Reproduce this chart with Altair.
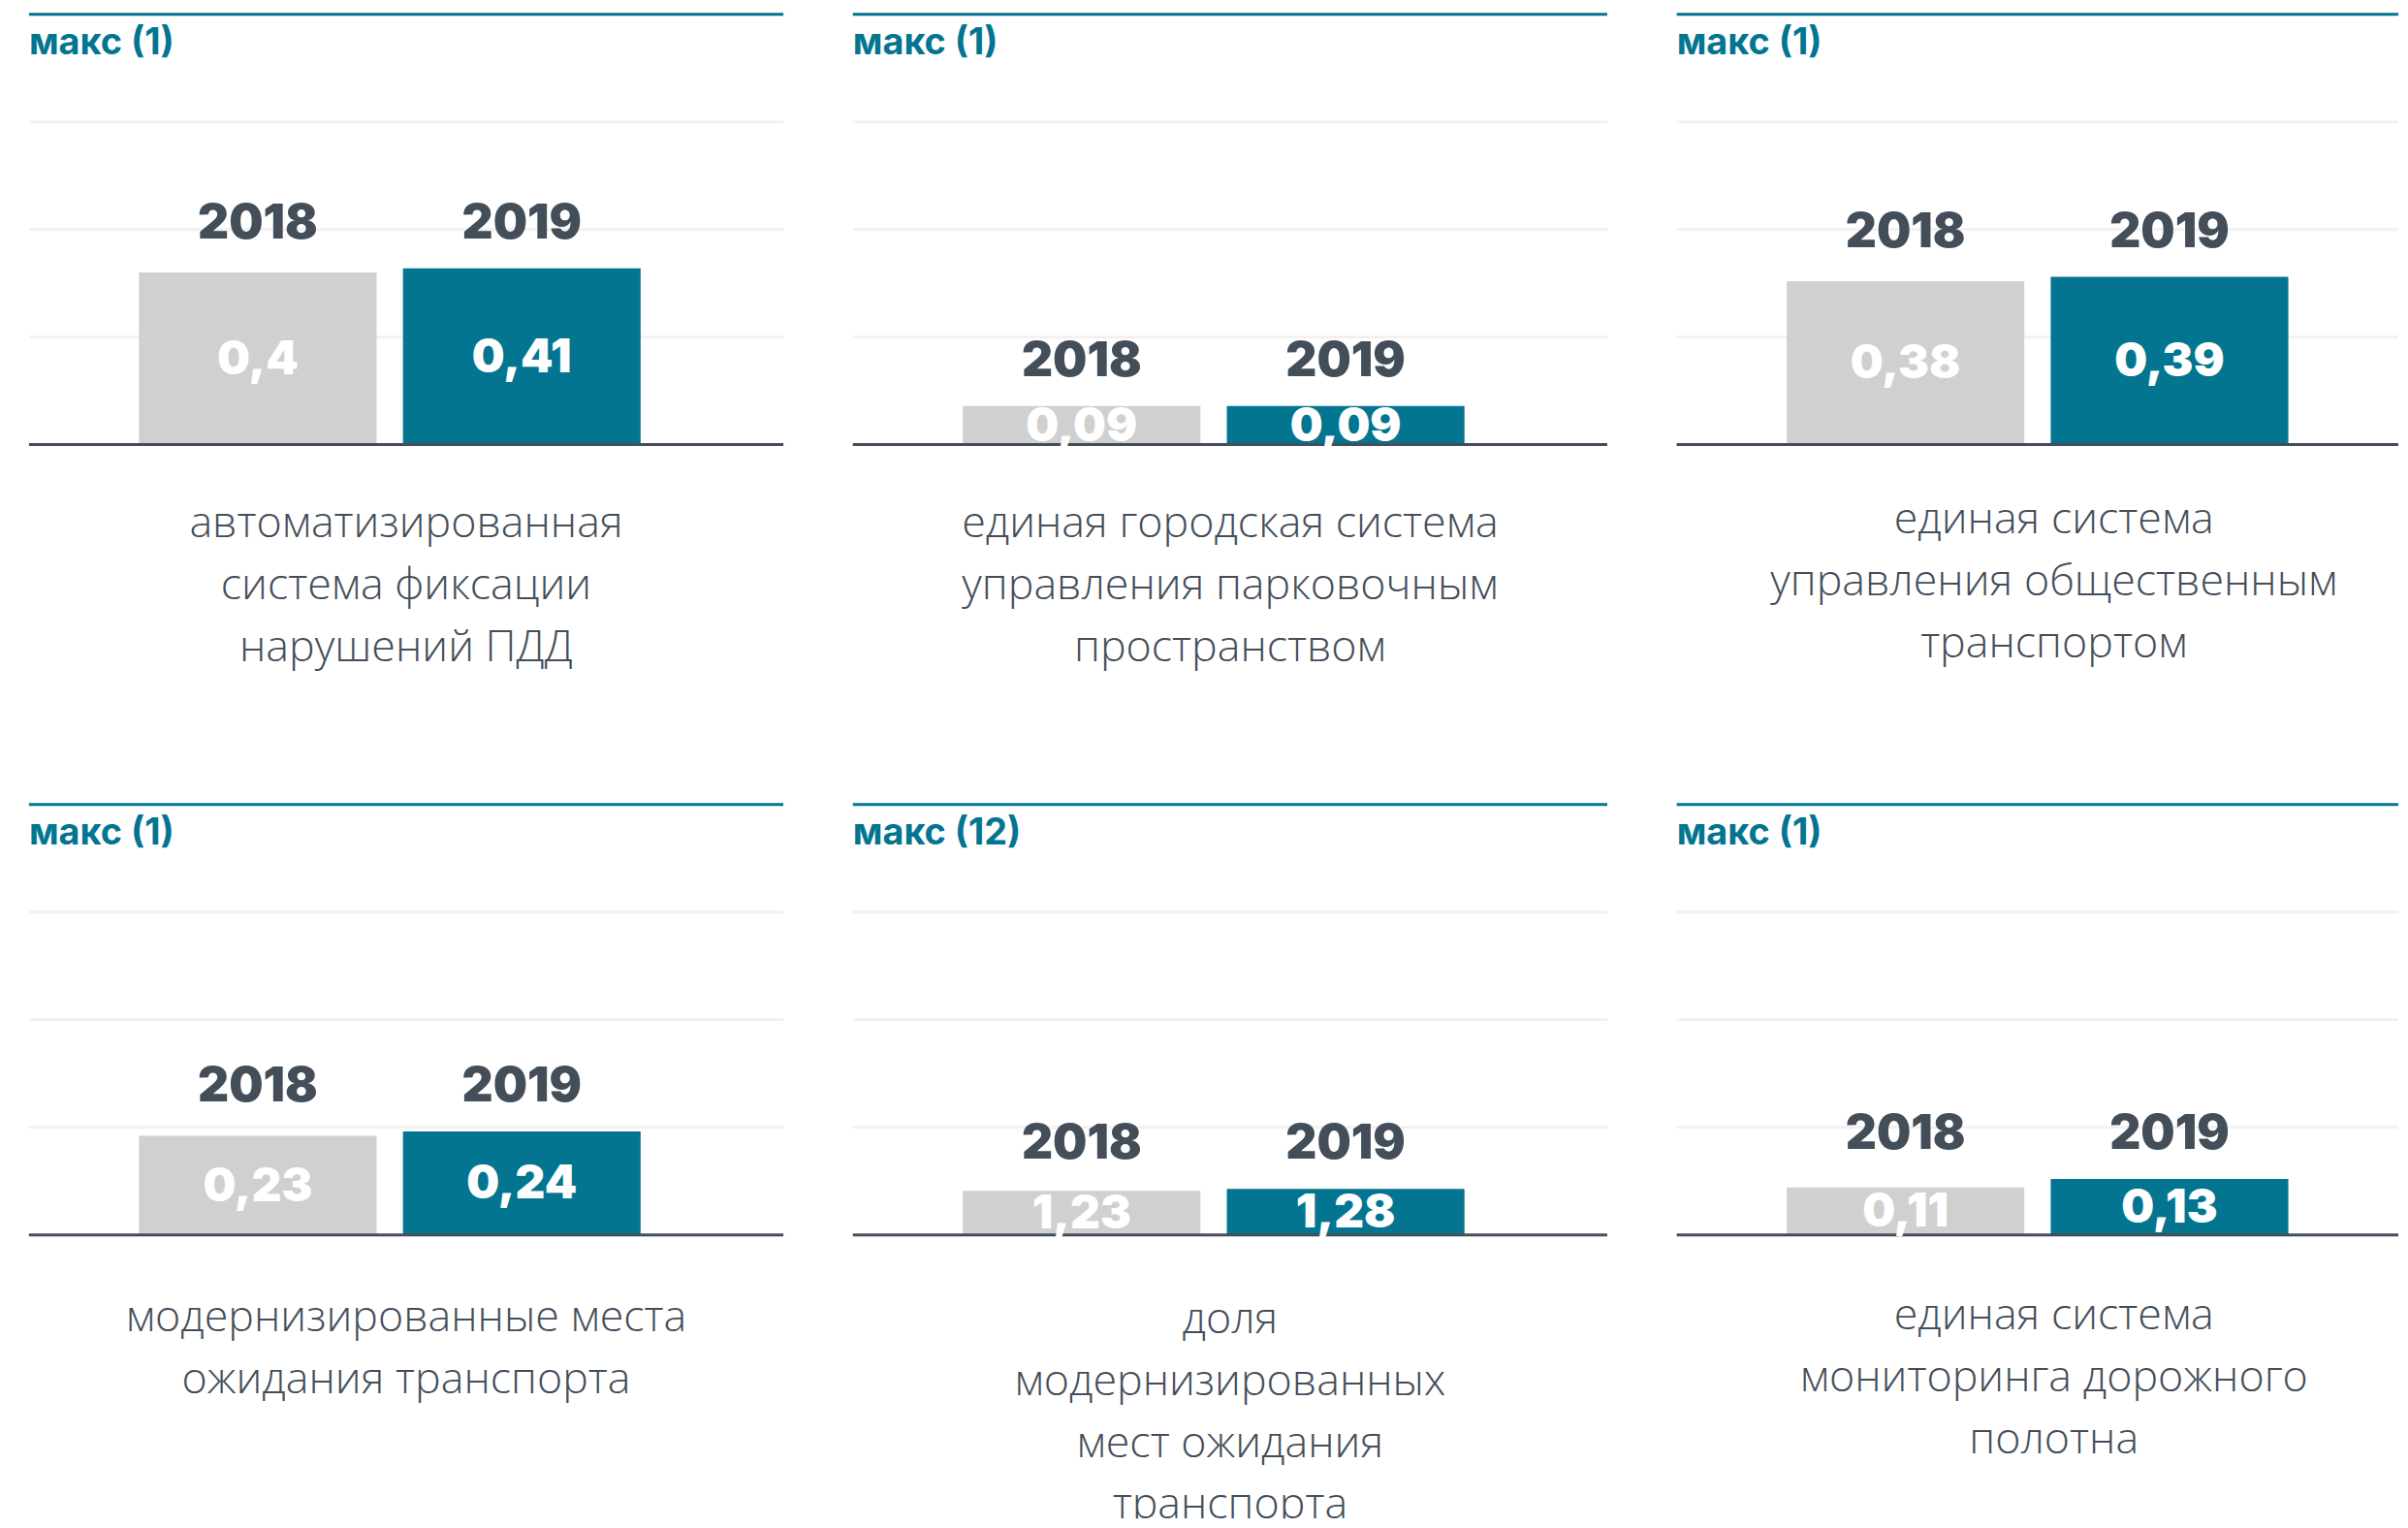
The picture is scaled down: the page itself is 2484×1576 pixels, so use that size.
import altair as alt
import pandas as pd

years = ["2018", "2019"]
maxima = [1, 1, 1, 1, 12, 1]
values_2018 = [0.4, 0.09, 0.38, 0.23, 1.23, 0.11]
values_2019 = [0.41, 0.09, 0.39, 0.24, 1.28, 0.13]
categories = [
    ["автоматизированная", "система фиксации", "нарушений ПДД"],
    ["единая городская система", "управления парковочным", "пространством"],
    ["единая система", "управления общественным", "транспортом"],
    ["модернизированные места", "ожидания транспорта"],
    ["доля", "модернизированных", "мест ожидания", "транспорта"],
    ["единая система", "мониторинга дорожного", "полотна"],
]

TEAL = "#037590"
GRAYBAR = "#d0d0d0"
DARK = "#444e59"
GRID = "#f1f1f1"
BOLD = "Inter"
LIGHT = "Open Sans"

W = 782      # panel width
W_LAST = 748 # last column, cut by the page edge
PH = 446     # plot (bar) area height
H1 = 802     # first row panel height
H2 = 740     # second row panel height (cut by page bottom)
CX = 391     # centre of the caption


def panel(i, width, height, cap_y):
    m = maxima[i]
    df = pd.DataFrame({"year": years, "value": [values_2018[i], values_2019[i]]})
    y_scale = alt.Scale(domain=[0, m], range=[PH, 0], nice=False, zero=True)
    x_scale = alt.Scale(domain=years, range=[114, 634], paddingInner=0.1, paddingOuter=0)
    xenc = alt.X("year:N", scale=x_scale, axis=None)

    grid = alt.Chart(pd.DataFrame({"g": [m * 0.25, m * 0.5, m * 0.75]})).mark_rule(
        color=GRID, strokeWidth=3
    ).encode(y=alt.Y("g:Q", scale=y_scale, axis=None))

    bars = alt.Chart(df).mark_bar().encode(
        x=xenc,
        y=alt.Y("value:Q", axis=None),
        color=alt.Color("year:N", scale=alt.Scale(domain=years, range=[GRAYBAR, TEAL]), legend=None),
    )

    top = alt.Chart(pd.DataFrame({"g": [m]})).mark_rule(color=TEAL, strokeWidth=3).encode(y="g:Q")
    base0 = alt.Chart(pd.DataFrame({"g": [0]})).mark_rule(color=DARK, strokeWidth=3).encode(y="g:Q")

    year_lbl = alt.Chart(df).transform_joinaggregate(top="max(value)").mark_text(
        font=BOLD, fontSize=50, fontWeight=900, color=DARK, baseline="middle", dy=-46
    ).encode(x=xenc, y="top:Q", text="year:N")

    val_lbl = alt.Chart(df).transform_calculate(
        mid="datum.value / 2", lab="replace(toString(datum.value), '.', ',')"
    ).mark_text(
        font=BOLD, fontSize=48, fontWeight=900, color="white", baseline="middle", dy=2
    ).encode(x=xenc, y="mid:Q", text="lab:N")

    title = alt.Chart(pd.DataFrame({"t": [f"макс ({m})"]})).mark_text(
        align="left", baseline="alphabetic", font=BOLD, fontSize=38, fontWeight=700, color=TEAL
    ).encode(x=alt.value(0), y=alt.value(41), text="t:N")

    cat = alt.Chart(pd.DataFrame({"t": [categories[i]]})).mark_text(
        align="center", baseline="top", font=LIGHT, fontSize=45, fontWeight=300,
        lineHeight=64, color=DARK, clip=True
    ).encode(x=alt.value(CX), y=alt.value(PH + cap_y), text="t")

    return alt.layer(grid, bars, base0, top, year_lbl, val_lbl, title, cat).properties(
        width=width, height=height
    )


row1 = alt.hconcat(panel(0, W, H1, 60), panel(1, W, H1, 60), panel(2, W_LAST, H1, 56), spacing=68)
row2 = alt.hconcat(panel(3, W, H2, 64), panel(4, W, H2, 66), panel(5, W_LAST, H2, 62), spacing=68)
chart = alt.vconcat(row1, row2, spacing=15).properties(
    padding={"left": 20, "top": 1, "right": 0, "bottom": 0},
    background="white",
).configure_view(strokeWidth=0)

chart.save("out.html", embed_options={"renderer": "svg", "actions": False})
